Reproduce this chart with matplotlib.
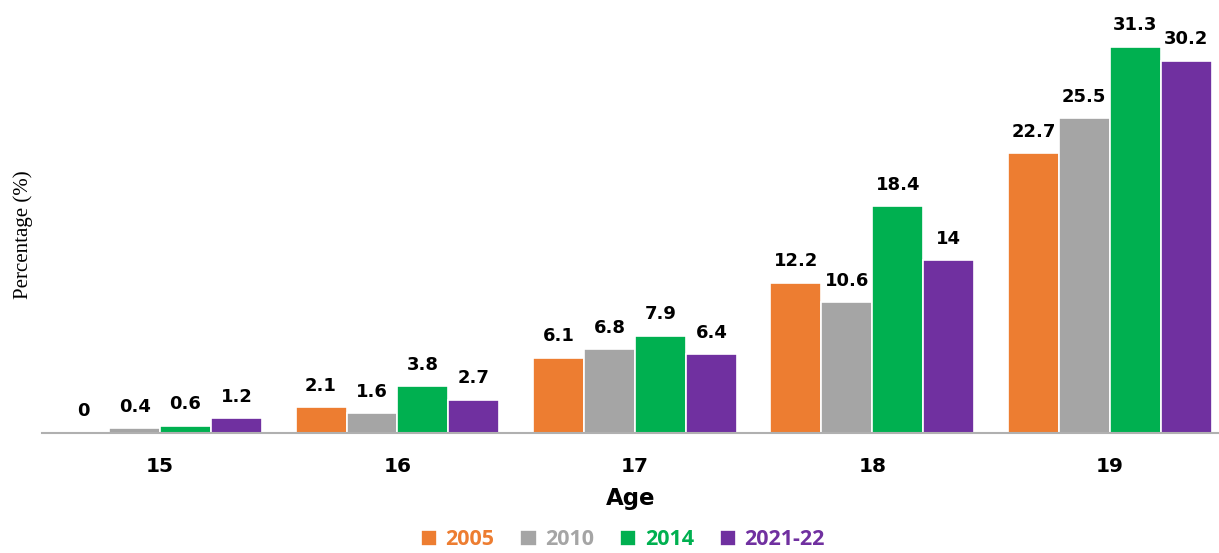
import matplotlib
matplotlib.use("Agg")
import matplotlib.pyplot as plt
import numpy as np

ages = ['15', '16', '17', '18', '19']
series_names = ['2005', '2010', '2014', '2021-22']
v2005 = [0, 2.1, 6.1, 12.2, 22.7]
v2010 = [0.4, 1.6, 6.8, 10.6, 25.5]
v2014 = [0.6, 3.8, 7.9, 18.4, 31.3]
v2021 = [1.2, 2.7, 6.4, 14, 30.2]
colors = ['#ED7D31', '#A5A5A5', '#00B050', '#7030A0']


def main():
  fig = plt.figure(figsize=(12.19, 5.53), dpi=100)
  ax = fig.add_axes([0.0345, 0.217, 0.9655, 0.765])

  x = np.arange(len(ages))
  w = 0.2147
  allvals = [v2005, v2010, v2014, v2021]
  for i, vals in enumerate(allvals):
    pos = x + (i - 1.5) * w
    bars = ax.bar(pos, vals, w, color=colors[i], edgecolor='white',
                  linewidth=1.2, label=series_names[i], zorder=2)
    for b, v in zip(bars, vals):
      txt = ('%g' % v)
      ax.annotate(txt, (b.get_x() + b.get_width() / 2, v),
                  xytext=(0, 9), textcoords='offset points',
                  ha='center', va='bottom', fontsize=13,
                  fontweight='bold', family='DejaVu Sans')

  ax.set_xlim(-0.497, 4.46)
  ax.set_ylim(0, 34.3)
  ax.set_xticks(x)
  ax.set_xticklabels(ages, fontsize=14.5, fontweight='bold')
  ax.tick_params(axis='x', length=0, pad=17)
  ax.set_yticks([])
  for s in ['top', 'right', 'left']:
    ax.spines[s].set_visible(False)
  ax.spines['bottom'].set_color('#b0b0b0')
  ax.spines['bottom'].set_linewidth(1.5)
  ax.spines['bottom'].set_zorder(3)

  ax.set_xlabel('Age', fontsize=16.5, fontweight='bold', labelpad=8)
  ax.set_ylabel('Percentage (%)', fontsize=15, family='Liberation Serif')
  ax.yaxis.set_label_coords(-0.0075, 0.468)

  leg = fig.legend(loc='lower center', bbox_to_anchor=(0.511, -0.03),
                   ncol=4, frameon=False, handlelength=0.75, handleheight=0.75,
                   columnspacing=1.2, handletextpad=0.4,
                   prop={'family': 'Open Sans', 'weight': 'bold', 'size': 15.5})
  for t, c in zip(leg.get_texts(), colors):
    t.set_color(c)

  fig.savefig('out.png', dpi=100)


main()
